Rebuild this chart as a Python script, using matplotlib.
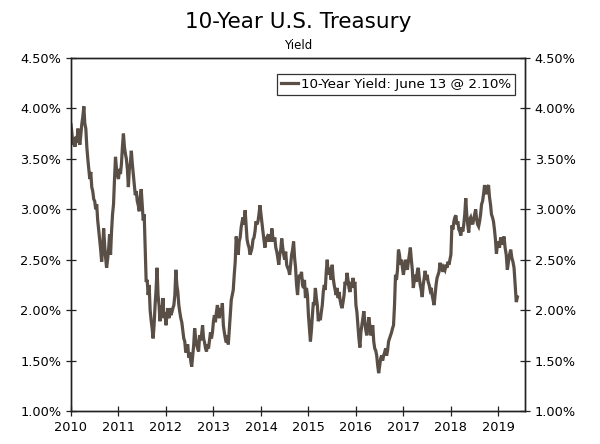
import numpy as np
import matplotlib
matplotlib.use('Agg')
import matplotlib.pyplot as plt
from matplotlib.ticker import FuncFormatter

# 10-year yield (%), about 4 readings per month
y2010 = [3.84, 3.75, 3.64, 3.70, 3.62, 3.72, 3.66, 3.80, 3.68, 3.64, 3.75, 3.85,
         3.92, 4.02, 3.85, 3.80, 3.62, 3.50, 3.40, 3.30, 3.37, 3.22, 3.18, 3.10,
         3.08, 3.00, 3.05, 2.89, 2.80, 2.70, 2.60, 2.48, 2.60, 2.81, 2.65, 2.52,
         2.42, 2.50, 2.60, 2.75, 2.55, 2.78, 2.95, 3.05, 3.30, 3.52, 3.40, 3.34]
y2011 = [3.30, 3.40, 3.35, 3.45, 3.62, 3.75, 3.62, 3.55, 3.50, 3.40, 3.22, 3.40,
         3.45, 3.58, 3.45, 3.35, 3.25, 3.14, 3.18, 3.08, 3.04, 2.98, 3.12, 3.20,
         3.05, 2.89, 2.95, 2.60, 2.28, 2.30, 2.15, 2.25, 2.00, 1.90, 1.82, 1.72,
         1.85, 2.05, 2.20, 2.42, 2.15, 2.05, 1.89, 2.05, 1.95, 2.12, 1.92, 1.98]
y2012 = [1.85, 1.95, 2.02, 1.92, 2.02, 1.95, 1.98, 2.02, 2.05, 2.15, 2.40, 2.25,
         2.18, 2.05, 1.98, 1.92, 1.88, 1.80, 1.72, 1.69, 1.58, 1.62, 1.66, 1.53,
         1.58, 1.50, 1.44, 1.55, 1.65, 1.82, 1.72, 1.66, 1.62, 1.59, 1.75, 1.70,
         1.76, 1.85, 1.72, 1.68, 1.62, 1.59, 1.66, 1.62, 1.70, 1.78, 1.72, 1.78]
y2013 = [1.89, 1.95, 1.88, 1.98, 2.05, 1.98, 1.92, 2.02, 1.96, 2.07, 1.85, 1.78,
         1.72, 1.68, 1.75, 1.66, 1.80, 1.95, 2.10, 2.15, 2.20, 2.35, 2.48, 2.73,
         2.62, 2.55, 2.68, 2.72, 2.82, 2.88, 2.92, 2.85, 2.99, 2.85, 2.70, 2.65,
         2.62, 2.55, 2.58, 2.62, 2.70, 2.72, 2.78, 2.88, 2.85, 2.88, 2.95, 3.04]
y2014 = [2.95, 2.85, 2.78, 2.70, 2.62, 2.70, 2.72, 2.68, 2.75, 2.72, 2.68, 2.81,
         2.72, 2.68, 2.72, 2.62, 2.58, 2.52, 2.45, 2.55, 2.60, 2.71, 2.62, 2.55,
         2.50, 2.58, 2.45, 2.42, 2.40, 2.35, 2.45, 2.55, 2.60, 2.68, 2.52, 2.42,
         2.25, 2.15, 2.30, 2.35, 2.32, 2.38, 2.25, 2.22, 2.30, 2.12, 2.22, 2.15]
y2015 = [1.95, 1.82, 1.69, 1.80, 1.95, 2.08, 2.05, 2.22, 2.12, 2.05, 1.89, 1.95,
         1.90, 1.98, 2.05, 2.18, 2.25, 2.20, 2.38, 2.50, 2.35, 2.42, 2.38, 2.30,
         2.45, 2.32, 2.25, 2.20, 2.15, 2.22, 2.12, 2.18, 2.10, 2.05, 2.02, 2.08,
         2.15, 2.28, 2.25, 2.37, 2.30, 2.22, 2.18, 2.28, 2.22, 2.32, 2.25, 2.28]
y2016 = [2.05, 1.98, 1.85, 1.72, 1.63, 1.78, 1.85, 1.92, 1.99, 1.88, 1.80, 1.75,
         1.82, 1.93, 1.85, 1.75, 1.80, 1.85, 1.69, 1.62, 1.60, 1.55, 1.45, 1.375,
         1.45, 1.52, 1.55, 1.50, 1.55, 1.58, 1.62, 1.55, 1.60, 1.69, 1.72, 1.75,
         1.78, 1.82, 1.85, 2.05, 2.35, 2.30, 2.40, 2.60, 2.55, 2.45, 2.50, 2.42]
y2017 = [2.35, 2.42, 2.50, 2.45, 2.40, 2.48, 2.55, 2.62, 2.50, 2.40, 2.22, 2.30,
         2.35, 2.28, 2.38, 2.42, 2.32, 2.25, 2.20, 2.13, 2.25, 2.32, 2.39, 2.30,
         2.35, 2.28, 2.25, 2.20, 2.22, 2.15, 2.10, 2.05, 2.15, 2.25, 2.32, 2.35,
         2.38, 2.47, 2.40, 2.42, 2.38, 2.42, 2.40, 2.45, 2.42, 2.48, 2.45, 2.50]
y2018 = [2.55, 2.84, 2.80, 2.88, 2.92, 2.94, 2.85, 2.88, 2.80, 2.78, 2.74, 2.82,
         2.78, 2.85, 2.95, 3.11, 2.95, 2.85, 2.77, 2.90, 2.92, 2.88, 2.85, 2.90,
         2.95, 3.00, 2.90, 2.85, 2.83, 2.88, 2.95, 3.05, 3.08, 3.15, 3.24, 3.18,
         3.15, 3.22, 3.24, 3.12, 3.05, 2.95, 2.92, 2.88, 2.80, 2.70, 2.56, 2.65]
y2019 = [2.68, 2.62, 2.72, 2.65, 2.68, 2.73, 2.62, 2.55, 2.40, 2.48, 2.55, 2.60,
         2.52, 2.48, 2.42, 2.25, 2.08, 2.13]

years = [2010, 2011, 2012, 2013, 2014, 2015, 2016, 2017, 2018, 2019]
yearly = [y2010, y2011, y2012, y2013, y2014, y2015, y2016, y2017, y2018, y2019]
span_2019 = 0.40  # last reading (June 13) sits ~0.4 yr past the 2019 tick

yticks = [1.0, 1.5, 2.0, 2.5, 3.0, 3.5, 4.0, 4.5]

x = []
y = []
for yr, vals in zip(years, yearly):
    n = len(vals)
    for i, v in enumerate(vals):
        if yr == 2019:
            x.append(yr + span_2019 * i / (n - 1))
        else:
            x.append(yr + i / n)
        y.append(v)

line_color = '#5a4f46'

fig = plt.figure(figsize=(6, 4.44), dpi=100)
ax = fig.add_axes([0.1183, 0.0743, 0.7567, 0.7951])
ax.plot(x, y, color=line_color, lw=2.3, solid_joinstyle='miter',
        label='10-Year Yield: June 13 @ 2.10%')

ax.set_xlim(2010, 2019.56)
ax.set_ylim(1.0, 4.5)
ax.set_xticks(years)
ax.set_yticks(yticks)
pct = FuncFormatter(lambda v, p: '%.2f%%' % v)
ax.yaxis.set_major_formatter(pct)
ax.tick_params(direction='inout', length=7, width=0.9, labelsize=9.3, color='#222222')
ax.tick_params(axis='x', pad=4)

ax2 = ax.twinx()
ax2.set_ylim(1.0, 4.5)
ax2.set_yticks(yticks)
ax2.yaxis.set_major_formatter(pct)
ax2.tick_params(direction='inout', length=7, width=0.9, labelsize=9.3, color='#222222')

for a in (ax, ax2):
    for s in a.spines.values():
        s.set_linewidth(1.0)
        s.set_color('#222222')

leg = ax.legend(loc='upper right', bbox_to_anchor=(0.993, 0.975), fontsize=9.7,
                handlelength=1.3, handletextpad=0.2, borderpad=0.3,
                fancybox=False, framealpha=1, edgecolor='#333333')
leg.get_frame().set_linewidth(0.9)

fig.text(0.497, 0.95, '10-Year U.S. Treasury', ha='center', va='center', fontsize=15.5)
fig.text(0.497, 0.898, 'Yield', ha='center', va='center', fontsize=8.5)

fig.savefig('out.png', dpi=100)
